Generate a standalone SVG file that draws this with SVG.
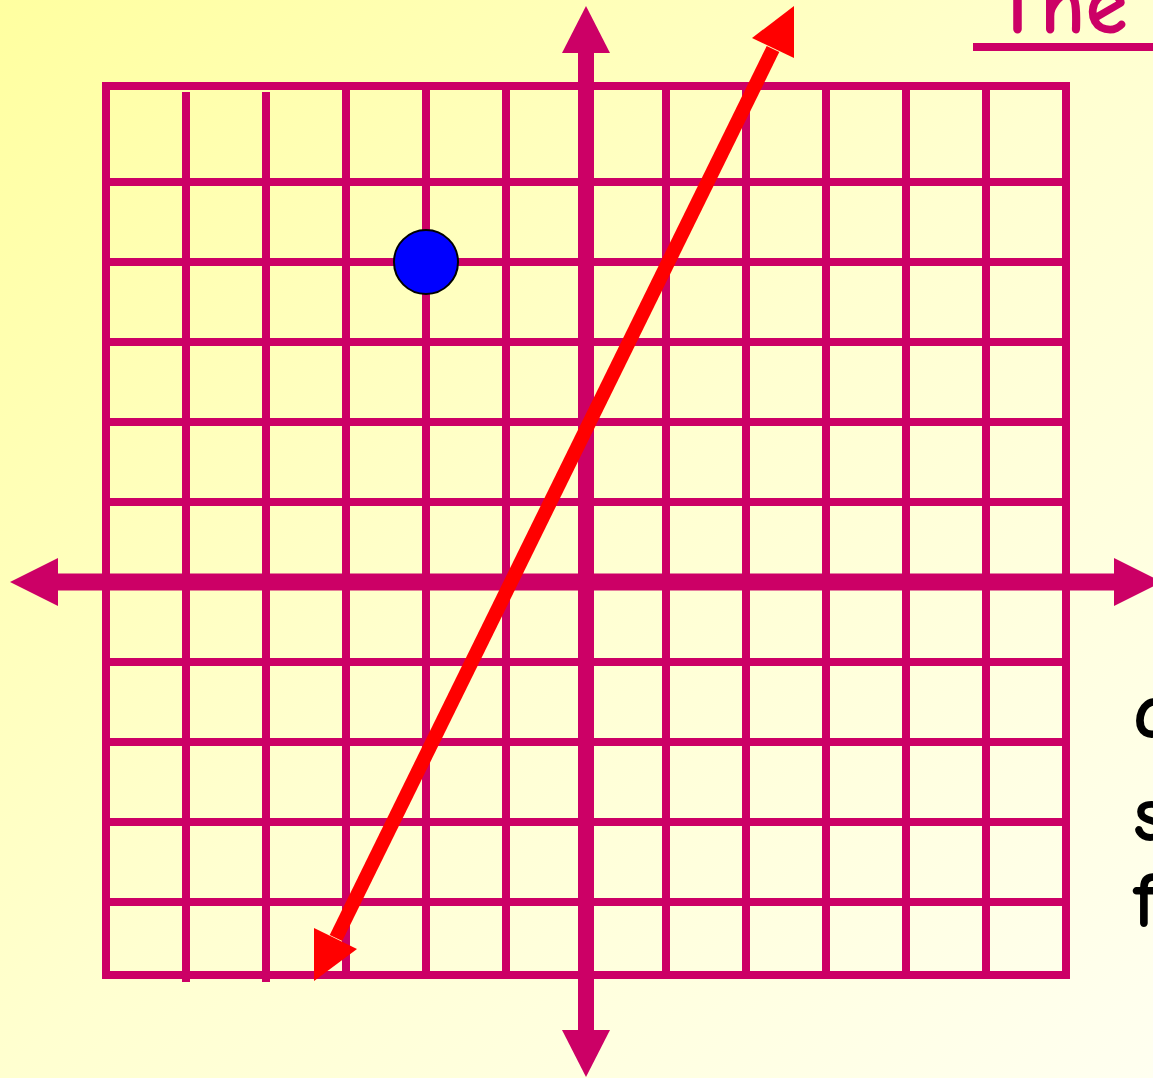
<svg xmlns="http://www.w3.org/2000/svg" width="1153" height="1078" viewBox="0 0 1153 1078">
<defs>
<linearGradient id="bg" x1="0" y1="0" x2="1" y2="1">
<stop offset="0" stop-color="#FFFFA0"/>
<stop offset="0.5" stop-color="#FFFFD0"/>
<stop offset="1" stop-color="#FFFFF0"/>
</linearGradient>
<style>
.grid{stroke:#CC0066;stroke-width:8;fill:none}
.axis{stroke:#CC0066;fill:none}
.ahead{fill:#CC0066}
.red{stroke:#FF0000;stroke-width:14;fill:none}
.rhead{fill:#FF0000}
.title{font-family:"Comic Neue","Liberation Sans",sans-serif;font-size:86px;font-weight:bold;fill:#CC0066}
.side{font-family:"Comic Neue","Liberation Sans",sans-serif;font-size:80px;font-weight:bold;fill:#000}
</style>
</defs>
<rect width="1153" height="1078" fill="url(#bg)"/>
<g id="title">
<text class="title" x="995" y="33">The</text>
<line x1="973" y1="47" x2="1153" y2="47" stroke="#CC0066" stroke-width="8"/>
</g>
<g id="side-text">
<text class="side" x="1133" y="738">a</text>
<text class="side" x="1133" y="841">s</text>
<text class="side" x="1133" y="927">f</text>
</g>
<g id="grid">
<rect class="grid" x="106" y="86" width="960" height="889"/>
<line class="grid" x1="186" y1="92" x2="186" y2="982"/>
<line class="grid" x1="266" y1="92" x2="266" y2="982"/>
<line class="grid" x1="346" y1="86" x2="346" y2="975"/>
<line class="grid" x1="426" y1="86" x2="426" y2="975"/>
<line class="grid" x1="506" y1="86" x2="506" y2="975"/>
<line class="grid" x1="666" y1="86" x2="666" y2="975"/>
<line class="grid" x1="746" y1="86" x2="746" y2="975"/>
<line class="grid" x1="826" y1="86" x2="826" y2="975"/>
<line class="grid" x1="906" y1="86" x2="906" y2="975"/>
<line class="grid" x1="986" y1="86" x2="986" y2="975"/>
<line class="grid" x1="106" y1="182" x2="1066" y2="182"/>
<line class="grid" x1="106" y1="262" x2="1066" y2="262"/>
<line class="grid" x1="106" y1="342" x2="1066" y2="342"/>
<line class="grid" x1="106" y1="422" x2="1066" y2="422"/>
<line class="grid" x1="106" y1="502" x2="1066" y2="502"/>
<line class="grid" x1="106" y1="662" x2="1066" y2="662"/>
<line class="grid" x1="106" y1="742" x2="1066" y2="742"/>
<line class="grid" x1="106" y1="822" x2="1066" y2="822"/>
<line class="grid" x1="106" y1="902" x2="1066" y2="902"/>
</g>
<g id="axes">
<line class="axis" x1="58" y1="582" x2="1114" y2="582" stroke-width="17"/>
<polygon class="ahead" points="10,582 58,558 58,606"/>
<polygon class="ahead" points="1162,582 1114,558 1114,606"/>
<line class="axis" x1="586" y1="53" x2="586" y2="1030" stroke-width="16"/>
<polygon class="ahead" points="586,6 562,53 610,53"/>
<polygon class="ahead" points="586,1077 562,1030 610,1030"/>
</g>
<g id="point">
<circle cx="426" cy="262" r="32" fill="#0000FF" stroke="#000" stroke-width="2"/>
</g>
<g id="connectors">
<line class="red" x1="336" y1="938" x2="773" y2="49"/>
<polygon class="rhead" points="314,981 314,928 357,949"/>
<polygon class="rhead" points="794,6 752,38 794,58"/>
</g>
</svg>
